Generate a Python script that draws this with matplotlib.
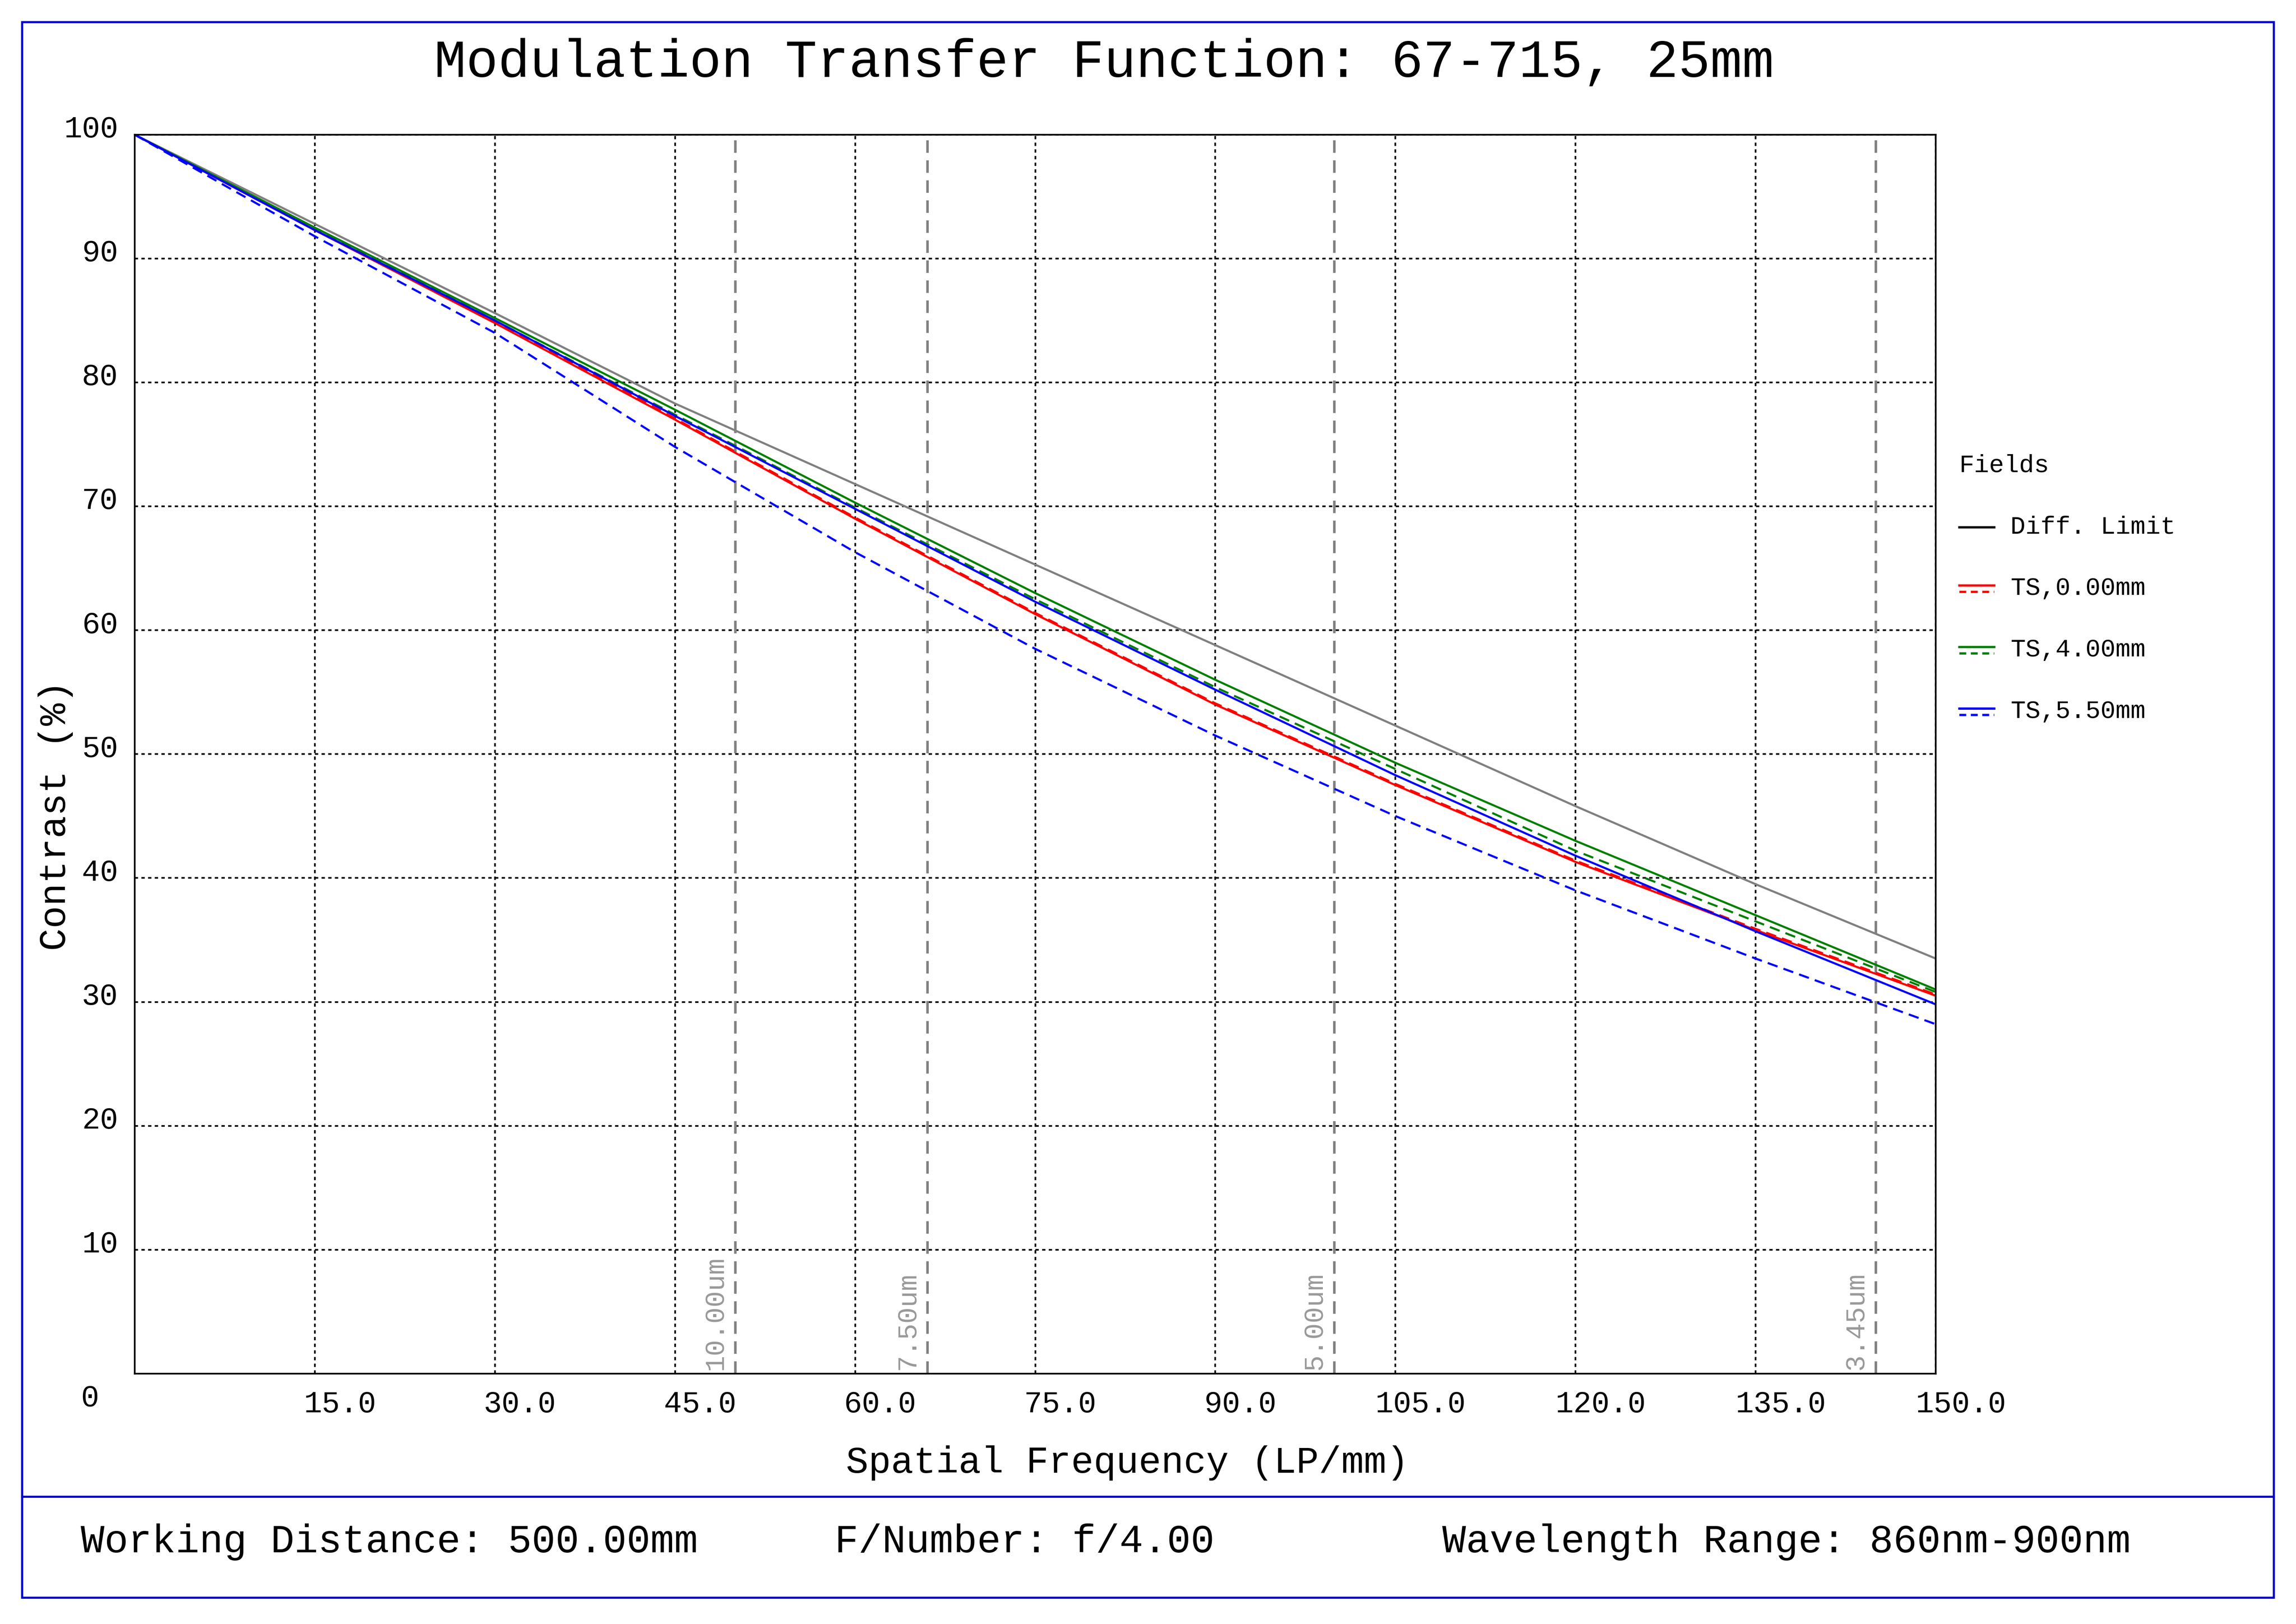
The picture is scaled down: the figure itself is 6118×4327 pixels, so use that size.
import matplotlib
matplotlib.use("Agg")
import matplotlib.pyplot as plt
from matplotlib.lines import Line2D
from matplotlib.patches import Rectangle
from matplotlib.transforms import offset_copy

freq = [0, 15, 30, 45, 60, 75, 90, 105, 120, 135, 150]
diff_limit = [100, 92.8, 85.6, 78.3, 71.8, 65.3, 58.8, 52.3, 45.8, 39.5, 33.5]
red_t = [100, 92.3, 84.8, 77.0, 69.0, 61.3, 54.0, 47.5, 41.3, 35.8, 30.5]
red_s = [100, 92.3, 84.9, 77.1, 69.1, 61.4, 54.1, 47.6, 41.4, 35.9, 30.6]
green_t = [100, 92.5, 85.2, 77.8, 70.3, 63.0, 56.0, 49.3, 43.0, 37.0, 31.0]
green_s = [100, 92.4, 85.0, 77.4, 69.9, 62.5, 55.4, 48.8, 42.2, 36.5, 30.8]
blue_t = [100, 92.3, 85.0, 77.3, 69.8, 62.3, 55.2, 48.3, 41.8, 35.7, 29.8]
blue_s = [100, 91.8, 84.0, 74.8, 66.3, 58.5, 51.5, 45.0, 39.0, 33.5, 28.2]
pixel_freqs = [50.0, 66.0, 99.9, 145.0]
pixel_labels = ["10.00um", "7.50um", "5.00um", "3.45um"]
xticks = [15, 30, 45, 60, 75, 90, 105, 120, 135, 150]
yticks = [10, 20, 30, 40, 50, 60, 70, 80, 90, 100]

FONT = "Liberation Mono"
plt.rcParams["font.family"] = FONT
fig = plt.figure(figsize=(6118/400, 4327/400), dpi=400)
W, H = 1568, 1109
fig.patches.append(Rectangle((15/W, 1-1091/H), (1553-15)/W, (1091-15)/H, transform=fig.transFigure,
                             fill=False, edgecolor="#0000cc", lw=1.0))
fig.add_artist(Line2D([15/W, 1553/W], [1-1022/H]*2, color="#0000cc", lw=1.0))

ax = fig.add_axes([92/W, 1-938/H, (1322-92)/W, (938-92)/H])
ax.set_xlim(0, 150); ax.set_ylim(0, 100)
ax.set_xticks(xticks); ax.set_yticks(yticks)
ax.set_xticklabels([f"{v:.1f}" for v in xticks], fontsize=14.5)
ax.set_yticklabels([str(v) for v in yticks], fontsize=14.5)
ax.tick_params(length=0, pad=8)
for lab in ax.get_xticklabels():
    lab.set_transform(offset_copy(lab.get_transform(), fig=fig, x=17*72/100/ (W/15.295*1/100) , y=0, units="points"))
for lab in ax.get_yticklabels():
    lab.set_transform(offset_copy(lab.get_transform(), fig=fig, x=0, y=4, units="points"))
ax.grid(True, color="black", ls=(0, (2, 2)), lw=0.8)
ax.text(-3, -2, "0", ha="right", va="center", fontsize=14.5)

for f, lab in zip(pixel_freqs, pixel_labels):
    ax.axvline(f, color="gray", ls=(0, (5, 3)), lw=1.2)
    ax.text(f - 0.6, 0.3, lab, rotation=90, ha="right", va="bottom", color="#999999", fontsize=13)

ax.plot(freq, diff_limit, color="gray", lw=1.0)
ax.plot(freq, red_t, color="red", lw=1.0)
ax.plot(freq, red_s, color="red", lw=1.0, ls=(0, (5, 3)))
ax.plot(freq, green_t, color="green", lw=1.0)
ax.plot(freq, green_s, color="green", lw=1.0, ls=(0, (5, 3)))
ax.plot(freq, blue_t, color="blue", lw=1.0)
ax.plot(freq, blue_s, color="blue", lw=1.0, ls=(0, (5, 3)))

fig.text(770/W, 1-999/H, "Spatial Frequency (LP/mm)", ha="center", va="center", fontsize=18)
fig.text(38/W, 1-557/H, "Contrast (%)", ha="center", va="center", rotation=90, fontsize=18)
fig.text(754/W, 1-43/H, "Modulation Transfer Function: 67-715, 25mm", ha="center", va="center", fontsize=25.5)

# legend
fig.text(1338/W, 1-318/H, "Fields", fontsize=12, va="center")
leg = [("Diff. Limit", "black", None), ("TS,0.00mm", "red", "red"),
       ("TS,4.00mm", "green", "green"), ("TS,5.50mm", "blue", "blue")]
for i, (lab, c1, c2) in enumerate(leg):
    y = 1 - (360 + 42*i)/H
    if c2 is None:
        fig.add_artist(Line2D([1338/W, 1362/W], [y, y], color=c1, lw=1.1))
    else:
        fig.add_artist(Line2D([1338/W, 1362/W], [y+0.002, y+0.002], color=c1, lw=1.1))
        fig.add_artist(Line2D([1338/W, 1362/W], [y-0.002, y-0.002], color=c2, lw=1.1, ls=(0, (3, 2))))
    fig.text(1373/W, y, lab, fontsize=12, va="center")

fy = 1 - 1053/H
fig.text(55/W, fy, "Working Distance: 500.00mm", fontsize=19, va="center")
fig.text(570/W, fy, "F/Number: f/4.00", fontsize=19, va="center")
fig.text(985/W, fy, "Wavelength Range: 860nm-900nm", fontsize=19, va="center")

fig.savefig("out.png", dpi=400)
